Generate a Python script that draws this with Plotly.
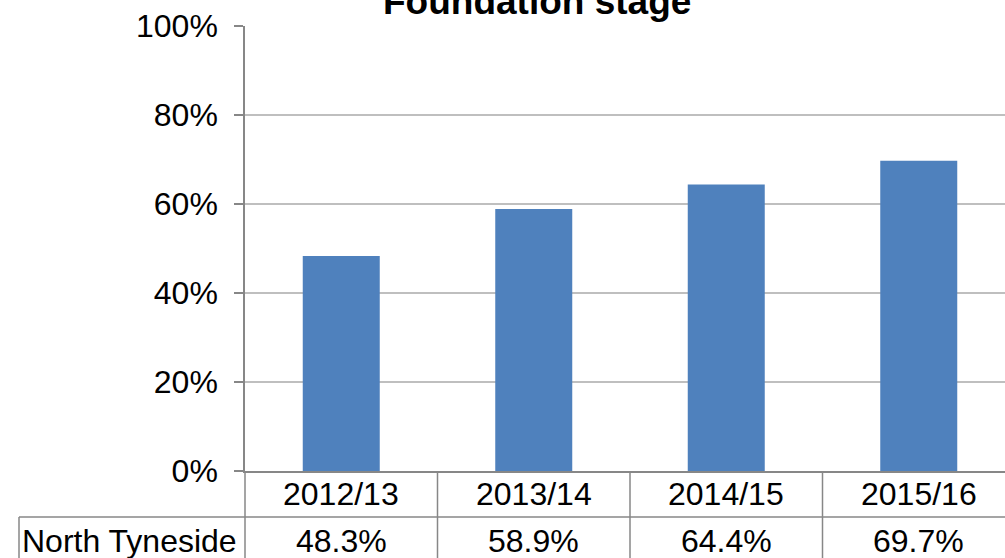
import plotly.graph_objects as go

title_text = "Foundation stage"
categories = ["2012/13", "2013/14", "2014/15", "2015/16"]
series_name = "North Tyneside"
values = [48.3, 58.9, 64.4, 69.7]
y_tick_vals = [0, 20, 40, 60, 80, 100]
y_tick_text = ["0%", "20%", "40%", "60%", "80%", "100%"]

W, H = 1005, 558
L, R, T, B = 245, 0, 26, 87
plot_w = W - L - R
plot_h = H - T - B
cat_px = 192.5

def px_x(p):
    return (p - L) / plot_w

def px_y(p):
    return (H - B - p) / plot_h

FONT = "Liberation Sans, Arial, sans-serif"
GRID = "#BFBFBF"
AXIS = "#878787"

fig = go.Figure()
fig.add_trace(go.Bar(
    x=categories, y=values, name=series_name,
    marker=dict(color="#4F81BD", line=dict(width=0)),
    width=0.4, showlegend=False,
))

x_max = -0.5 + plot_w / cat_px

shapes = []
# left edge of the table (continuation of the value axis), not clipped
shapes.append(dict(type="line", xref="paper", yref="paper",
                   x0=0, x1=0, y0=0, y1=px_y(H + 5),
                   line=dict(color=AXIS, width=1.5)))
# category boundary lines through both table rows
for i in range(1, len(categories) + 1):
    shapes.append(dict(type="line", xref="x", yref="paper",
                       x0=i - 0.5, x1=i - 0.5, y0=0, y1=px_y(H + 5),
                       line=dict(color=AXIS, width=1.5)))
# left border of data row
shapes.append(dict(type="line", xref="paper", yref="paper",
                   x0=px_x(19), x1=px_x(19), y0=px_y(517), y1=px_y(H + 5),
                   line=dict(color=AXIS, width=1.5)))
# row divider
shapes.append(dict(type="line", xref="paper", yref="paper",
                   x0=px_x(19), x1=1.0, y0=px_y(517), y1=px_y(517),
                   line=dict(color=AXIS, width=1.5)))

annotations = [dict(text="<b>%s</b>" % title_text, xref="paper", yref="paper",
                    x=px_x(537), y=px_y(1), xanchor="center", yanchor="middle",
                    showarrow=False, font=dict(family=FONT, size=37, color="black"))]
for c, v in zip(categories, values):
    annotations.append(dict(text=c, xref="x", yref="paper", x=c, y=px_y(494),
                            xanchor="center", yanchor="middle", showarrow=False,
                            font=dict(family=FONT, size=32, color="black")))
    annotations.append(dict(text="%.1f%%" % v, xref="x", yref="paper", x=c, y=px_y(541),
                            xanchor="center", yanchor="middle", showarrow=False,
                            font=dict(family=FONT, size=32, color="black")))
annotations.append(dict(text=series_name, xref="paper", yref="paper", x=px_x(20), y=px_y(541),
                        xanchor="left", yanchor="middle", showarrow=False,
                        font=dict(family=FONT, size=32, color="black")))

fig.update_layout(
    width=W, height=H,
    margin=dict(l=L, r=R, t=T, b=B, pad=0),
    paper_bgcolor="white", plot_bgcolor="white",
    bargap=0.6,
    shapes=shapes, annotations=annotations,
    xaxis=dict(type="category", range=[-0.5, x_max], showticklabels=False,
               showgrid=False, showline=True, linecolor=AXIS, linewidth=1.5,
               ticks="", zeroline=False, fixedrange=True),
    yaxis=dict(range=[0, 100], tickvals=y_tick_vals, ticktext=y_tick_text,
               showgrid=True, gridcolor=GRID, gridwidth=1.5,
               showline=True, linecolor=AXIS, linewidth=1.5,
               ticks="outside", ticklen=9, tickcolor=AXIS, tickwidth=1.5,
               ticklabelstandoff=10, zeroline=False,
               tickfont=dict(family=FONT, size=32, color="black"), fixedrange=True),
)

fig.write_html("out.html", config={"displayModeBar": False},
               post_script="document.body.style.margin='0';document.body.style.overflow='hidden';")
